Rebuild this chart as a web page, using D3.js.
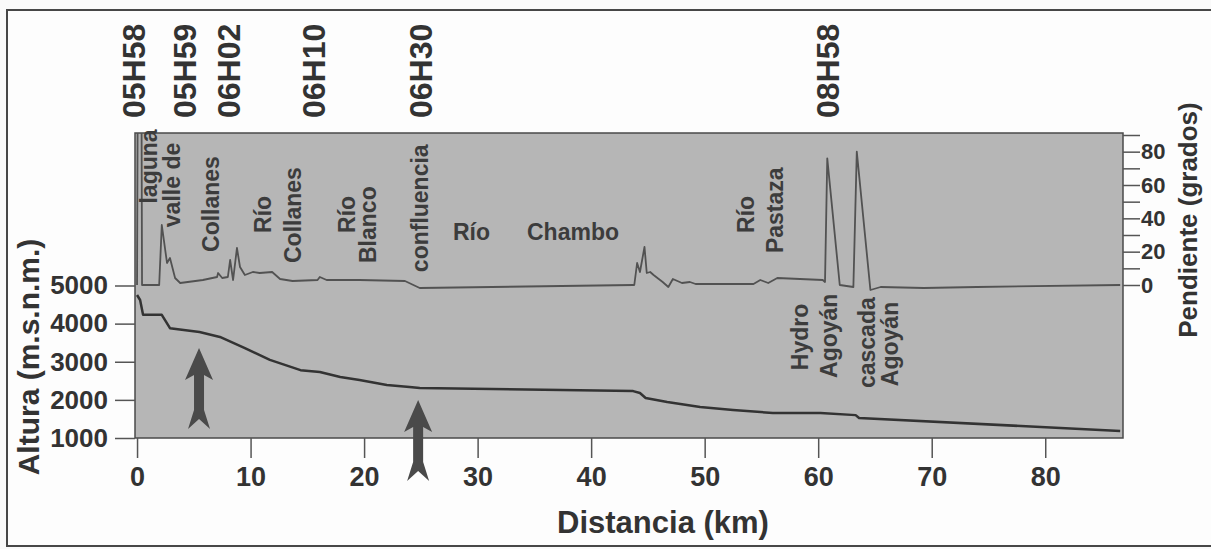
<!DOCTYPE html>
<html>
<head>
<meta charset="utf-8">
<script src="https://cdn.jsdelivr.net/npm/d3@7"></script>
<style>
  body { margin: 0; background: #fafafa; }
  svg { display: block; font-family: "Liberation Sans", Arial, Helvetica, sans-serif; font-weight: bold; }
</style>
</head>
<body>
<div id="chart"></div>
<script>
// perfil longitudinal: altura (m.s.n.m.) vs distancia (km)
const altKm = [0, 0.27, 0.53, 2.18, 2.9, 5.5, 7.3, 9.5, 11.7, 14.4, 16.1, 17.9, 19.6, 22.0, 24.0, 24.9,
               43.7, 44.3, 44.8, 46.7, 49.6, 52.5, 56.0, 60.2, 63.3, 63.6, 86.6];
const altM = [4750, 4620, 4230, 4230, 3880, 3780, 3650, 3360, 3050, 2780, 2730, 2600, 2520, 2390, 2340, 2310,
              2230, 2180, 2050, 1945, 1815, 1735, 1655, 1655, 1600, 1525, 1185];

// pendiente (grados) vs distancia (km)
const slopeKm = [0, 0.05, 0.4, 0.44, 1.95, 2.18, 2.64, 2.9, 3.35, 3.8, 5.8, 7.05, 7.14, 7.5, 8.0, 8.2, 8.46,
                 8.8, 9.07, 9.5, 10.2, 10.8, 11.9, 12.6, 13.7, 15.9, 16.1, 16.7, 19.6, 23.6, 24.9, 43.7,
                 43.8, 44.05, 44.3, 44.7, 44.9, 45.2, 45.5, 46.3, 46.8, 47.2, 48.0, 48.7, 49.2, 54.3, 54.9,
                 55.6, 56.4, 60.4, 60.6, 60.8, 61.9, 63.1, 63.4, 64.6, 65.5, 69.3, 74.0, 86.6];
const slopeDeg = [0, 95, 95, 0, 0, 36, 13.2, 16.2, 4.2, 1.2, 3, 4.8, 7.2, 4.2, 4.8, 15, 3,
                  22.2, 10.8, 6, 7.8, 7.2, 7.8, 3.6, 2.4, 3, 4.8, 3, 3, 2.4, -1.8, 0,
                  0, 13.2, 7.8, 22.8, 7.2, 7.8, 6, 1.8, -1.2, 3.6, 1.2, 1.8, 0.6, 0.6, 3,
                  1.2, 4.2, 3, 1.8, 76, 0, -1.2, 80, -3, -1.2, -1.8, -1.2, 0];

const xTicks = [0, 10, 20, 30, 40, 50, 60, 70, 80];
const altTicks = [1000, 2000, 3000, 4000, 5000];
const slopeTicks = [0, 10, 20, 30, 40, 50, 60, 70, 80, 90];
const slopeLabels = [0, 20, 40, 60, 80];

// horas de paso
const timeLabels = ["05H58", "05H59", "06H02", "06H10", "06H30", "08H58"];
const timeKm = [-0.31, 4.22, 8.01, 15.5, 25.0, 60.86];

// nombres de lugares (km, altura de anclaje, vertical?)
const placeNames = ["laguna", "valle de", "Collanes", "Río", "Collanes", "Río", "Blanco", "confluencia",
                    "Río", "Chambo", "Río", "Pastaza", "Hydro", "Agoyán", "cascada", "Agoyán"];
const placeKm = [1.05, 3.08, 6.51, 11.1, 13.74, 18.5, 20.35, 24.93, 27.83, 34.35, 53.64, 56.2, 58.4, 60.95, 64.3, 66.33];
const placeAlt = [7150, 6530, 5880, 6380, 5590, 6380, 5590, 5350, 6190, 6190, 6380, 5850, 2780, 2575, 2310, 2360];
const placeVertical = [true, true, true, true, true, true, true, true, false, false, true, true, true, true, true, true];

// flechas
const arrowKm = [5.46, 24.76];
const arrowTipAlt = [3360, 2000];

const W = 1211, H = 549;
const plot = { left: 135, right: 1123, top: 133, bottom: 438 };

const x = d3.scaleLinear().domain([-0.18, 86.85]).range([plot.left, plot.right]);
const y = d3.scaleLinear().domain([1000, 9000]).range([plot.bottom, plot.top]);
const ys = d3.scaleLinear().domain([0, 90]).range([285, 135]);

const svg = d3.select("#chart").append("svg")
    .attr("width", W)
    .attr("height", H);

// marco exterior
svg.append("rect")
    .attr("x", 7).attr("y", 10)
    .attr("width", 1212).attr("height", 536)
    .attr("fill", "#fdfdfd")
    .attr("stroke", "#474747")
    .attr("stroke-width", 2);

svg.append("defs").append("clipPath")
    .attr("id", "clip")
    .append("rect")
    .attr("x", plot.left).attr("y", plot.top)
    .attr("width", plot.right - plot.left).attr("height", plot.bottom - plot.top);

// area gris
svg.append("rect")
    .attr("x", plot.left).attr("y", plot.top)
    .attr("width", plot.right - plot.left).attr("height", plot.bottom - plot.top)
    .attr("fill", "#b6b6b6")
    .attr("stroke", "#4a4a4a")
    .attr("stroke-width", 1.5);

const slopeData = slopeKm.map((k, i) => [k, slopeDeg[i]]);
const altData = altKm.map((k, i) => [k, altM[i]]);

svg.append("path")
    .datum(slopeData)
    .attr("clip-path", "url(#clip)")
    .attr("fill", "none")
    .attr("stroke", "#525252")
    .attr("stroke-width", 1.8)
    .attr("stroke-linejoin", "round")
    .attr("d", d3.line().x(d => x(d[0])).y(d => ys(d[1])));

svg.append("path")
    .datum(altData)
    .attr("clip-path", "url(#clip)")
    .attr("fill", "none")
    .attr("stroke", "#333")
    .attr("stroke-width", 2.5)
    .attr("stroke-linejoin", "round")
    .attr("d", d3.line().x(d => x(d[0])).y(d => y(d[1])));

// ejes
function styleAxis(g, size) {
    g.select(".domain").remove();
    g.selectAll(".tick line").attr("stroke", "#555").attr("stroke-width", 1.5);
    g.selectAll(".tick text").attr("fill", "#333").style("font-size", size + "px");
}

svg.append("g")
    .attr("transform", "translate(0," + plot.bottom + ")")
    .call(d3.axisBottom(x).tickValues(xTicks).tickSize(20).tickPadding(9))
    .call(g => styleAxis(g, 27));

svg.append("g")
    .attr("transform", "translate(" + plot.left + ",0)")
    .call(d3.axisLeft(y).tickValues(altTicks).tickSize(20).tickPadding(7).tickFormat(d3.format("d")))
    .call(g => styleAxis(g, 26));

svg.append("g")
    .attr("transform", "translate(" + plot.right + ",0)")
    .call(d3.axisRight(ys).tickValues(slopeTicks).tickSize(17).tickPadding(1)
        .tickFormat(d => slopeLabels.includes(d) ? d : ""))
    .call(g => styleAxis(g, 22));

// titulos
svg.append("text")
    .attr("x", 663).attr("y", 533)
    .attr("text-anchor", "middle")
    .attr("fill", "#333")
    .style("font-size", "31px")
    .text("Distancia (km)");

svg.append("text")
    .attr("transform", "translate(39,357) rotate(-90)")
    .attr("text-anchor", "middle")
    .attr("fill", "#333")
    .style("font-size", "30px")
    .text("Altura (m.s.n.m.)");

svg.append("text")
    .attr("transform", "translate(1197,220) rotate(-90)")
    .attr("text-anchor", "middle")
    .attr("fill", "#333")
    .style("font-size", "26px")
    .text("Pendiente (grados)");

// horas
svg.selectAll(".hora")
    .data(timeLabels)
    .enter().append("text")
    .attr("class", "hora")
    .attr("transform", (d, i) => "translate(" + x(timeKm[i]) + ",118) rotate(-90)")
    .attr("dy", "0.36em")
    .attr("fill", "#333")
    .style("font-size", "32px")
    .text(d => d);

// lugares
svg.selectAll(".lugar")
    .data(placeNames)
    .enter().append("text")
    .attr("class", "lugar")
    .attr("transform", (d, i) => placeVertical[i]
        ? "translate(" + x(placeKm[i]) + "," + y(placeAlt[i]) + ") rotate(-90)"
        : "translate(" + x(placeKm[i]) + "," + y(placeAlt[i]) + ")")
    .attr("dy", (d, i) => placeVertical[i] ? "0.36em" : 0)
    .attr("fill", "#3c3c3c")
    .style("font-size", "23px")
    .text(d => d);

// flechas
const arrowShape = "M0,0 L14,32 L5,27 L5,62 L11,81 L0,71 L-11,81 L-5,62 L-5,27 L-14,32 Z";
svg.selectAll(".flecha")
    .data(arrowKm)
    .enter().append("path")
    .attr("class", "flecha")
    .attr("transform", (d, i) => "translate(" + x(d) + "," + y(arrowTipAlt[i]) + ")")
    .attr("fill", "#4a4a4a")
    .attr("d", arrowShape);
</script>
</body>
</html>
